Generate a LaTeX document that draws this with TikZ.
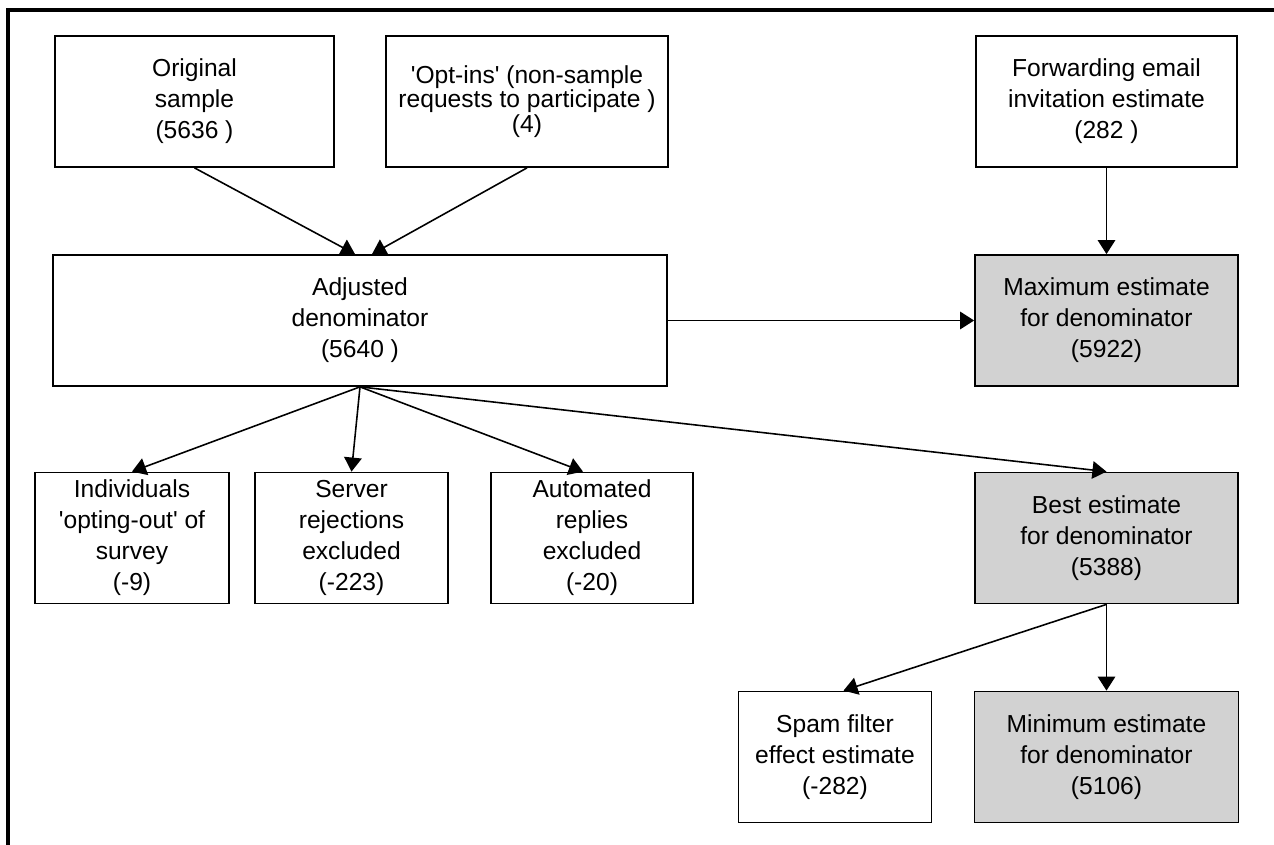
\documentclass[tikz,border=0pt]{standalone}
\usepackage{fontspec}
\setmainfont{Liberation Sans}
\usetikzlibrary{arrows.meta}

\tikzset{
  box/.style={draw, line width=1pt, minimum height=2.62cm, align=center, inner sep=2pt,
    font=\fontsize{14}{17.6}\selectfont},
  est/.style={box, fill=gray!35},
  link/.style={-{Triangle[width=10pt,length=8pt]}, line width=0.9pt}
}

\begin{document}
\begin{tikzpicture}[node distance=4.38cm]
  \useasboundingbox (0,0) rectangle (25.48,-16.9);
  \draw[line width=2.3pt] (0.16,-16.9) -- (0.16,-0.2) -- (25.48,-0.2);

  \node (orig) [box, minimum width=5.58cm] at (3.89,-2.03) {Original\\sample\\(5636 )};
  \node (optin) [box, minimum width=5.64cm, node distance=6.65cm, right of=orig,
    font=\fontsize{14}{13.8}\selectfont] {\textquotesingle Opt-ins\textquotesingle{} (non-sample\\requests to participate )\\(4)};
  \node (fwd) [box, minimum width=5.22cm, node distance=11.59cm, right of=optin] {Forwarding email\\invitation estimate\\(282 )};
  \node (adj) [box, minimum width=12.28cm, below of=orig, xshift=3.31cm] {Adjusted\\denominator\\(5640 )};
  \node (maxest) [est, minimum width=5.26cm, below of=fwd] {Maximum estimate\\for denominator\\(5922)};
  \node (best) [est, minimum width=5.26cm, node distance=4.35cm, below of=maxest] {Best estimate\\for denominator\\(5388)};
  \node (minest) [est, minimum width=5.28cm, below of=best] {Minimum estimate\\for denominator\\(5106)};
  \node (spam) [box, minimum width=3.86cm, node distance=5.43cm, left of=minest] {Spam filter\\effect estimate\\(-282)};
  \node (indiv) [box, minimum width=3.88cm, node distance=4.35cm, below of=adj, xshift=-4.56cm] {Individuals\\\textquotesingle opting-out\textquotesingle{} of\\survey\\(-9)};
  \node (server) [box, minimum width=3.86cm, node distance=4.39cm, right of=indiv] {Server\\rejections\\excluded\\(-223)};
  \node (autorep) [box, minimum width=4.04cm, node distance=4.81cm, right of=server] {Automated\\replies\\excluded\\(-20)};

  \draw[link] (orig.south) -- ([xshift=-0.1cm]adj.north);
  \draw[link] (optin.south) -- ([xshift=0.24cm]adj.north);
  \draw[link] (fwd) -- (maxest);
  \draw[link] (adj) -- (maxest);
  \draw[link] (adj.south) -- (indiv.north);
  \draw[link] (adj.south) -- (server.north);
  \draw[link] (adj.south) -- ([xshift=-0.18cm]autorep.north);
  \draw[link] (adj.south) -- (best.north);
  \draw[link] (best.south) -- ([xshift=0.17cm]spam.north);
  \draw[link] (best.south) -- (minest.north);
\end{tikzpicture}
\end{document}
